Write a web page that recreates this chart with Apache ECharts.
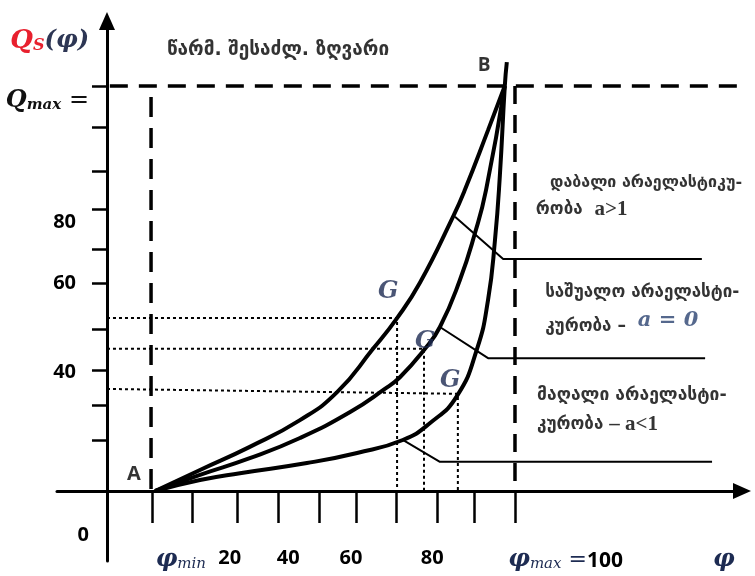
<!DOCTYPE html>
<html>
<head>
<meta charset="utf-8">
<script src="https://cdn.jsdelivr.net/npm/echarts@6/dist/echarts.min.js"></script>
<style>
  html, body { margin: 0; padding: 0; background: #fff; }
  #chart { width: 755px; height: 576px; }
</style>
</head>
<body>
<div id="chart"></div>
<script>
// diagram units: φ (0..100 = φmax), Qs (0..100 = Qmax)
// supply curves, [φ, Qs]
var curveLowInel = [[11.8,0],[22.8,5.2],[35.0,10.9],[47.3,17.5],[56.4,24.4],[65.2,35.1],[71.1,42.7],[76.7,51.4],[84.8,67.7],[87.7,74.3],[93.4,89.1],[97.5,100]]
var curveMidInel = [[11.8,0],[22.8,4.0],[35.0,8.1],[47.3,13.1],[59.6,19.5],[68.1,25.2],[71.8,28.1],[77.7,34.8],[81.6,40.5],[86.5,52.1],[90.2,63.7],[92.9,74.3],[97.5,100]]
var curveHighInel = [[11.8,0],[22.8,2.7],[32.6,4.4],[49.0,6.9],[61.3,9.4],[72.5,12.6],[79.2,16.8],[85.8,23.5],[90.7,35.1],[93.4,47.2],[95.1,62.0],[96.3,78.0],[97.5,100],[98.0,105.9]]

// pointer lines from the curves to the notes
var pointerTop = [[85.3,67.7],[97.1,57.3],[145.8,57.3]]
var pointerMid = [[81.6,40.5],[93.4,32.8],[146.6,32.8]]
var pointerLow = [[72.5,12.6],[81.6,7.2],[148.3,7.2]]

// dashed limits and dotted read-offs
var qmaxLine = [[0.7,100],[160,100]]
var phiMinLine = [[10.8,97.3],[10.8,0]]
var phiMaxLine = [[100,100],[100,0]]
var readOff1 = [[0,42.7],[71.1,42.7],[71.1,0]]
var readOff2 = [[0,35.1],[77.7,35.1],[77.7,0]]
var readOff3 = [[0,25.2],[86.0,24.0],[86.0,0]]

// axes
var xTicks = [11, 21, 32, 42, 52, 61, 71, 81, 90, 100]
var xLabelAt = [18.1, 30.1, 44.4, 59.8, 79.7, 112.4, 151.2]
var xLabels = ['{ph|φ}{phs|min}', '{n|20}', '{n|40}', '{n|60}', '{n|80}', '{ph|φ}{phs|max}{eq| =}{nb|100}', '{ph|φ}']
var yTicks = [12.6, 21.2, 29.9, 40, 51.4, 59.8, 69.6, 79, 89.9, 100]
var yLabelAt = [111.1, 96.3, 66.4, 51.4, 29.4, -10.9]
var yLabels = ['{qr|Q}{qrs|S}{qp|(φ)}', '{qb|Q}{qbs|max}{eqs| =}', '{ny|80}', '{ny|60}', '{ny|40}', '{n|0}']

// notes
var notes = ['{t|წარმ. შესაძლ. ზღვარი}', '{s|დაბალი არაელასტიკუ-}', 'რობა  {lat|a>1}', 'საშუალო არაელასტი-',
  'კურობა – {ab|a = 0}', '{m|მაღალი არაელასტი-}', 'კურობა {lat|– a<1}', '{pb|B}', '{pa|A}', '{g|G}', '{g|G}', '{g|G}']
var noteAt = [[14.7,108.9],[108.6,76.0],[105.1,69.4],[107.4,49.1],[107.4,40.5],[105.4,23.7],[105.4,16.3],
  [90.9,105.0],[4.9,4.1],[66.4,49.1],[75.5,36.8],[81.6,27.1]]

var serif = 'DejaVu Serif'
var sans = 'Open Sans'
var navy = '#1d2b52'

function line(data, width, type, z) {
  return {
    type: 'line', data: data, symbol: 'none', silent: true, z: z || 2,
    lineStyle: { color: '#000', width: width, type: type || 'solid' }
  }
}

function curve(data) {
  var s = line(data, 4, 'solid', 5)
  s.smooth = 0.5
  return s
}

var chart = echarts.init(document.getElementById('chart'))

var series = [
  curve(curveLowInel), curve(curveMidInel), curve(curveHighInel),
  line(pointerTop, 2), line(pointerMid, 2), line(pointerLow, 2),
  line(phiMinLine, 3.5, [20, 11]), line(phiMaxLine, 3.5, [18, 11]),
  line(readOff1, 2, [3, 3]), line(readOff2, 2, [3, 3]), line(readOff3, 2, [3, 3])
]
var q = line(qmaxLine, 3.5, [18, 11])
q.clip = false
series.push(q)

series.push({
  type: 'scatter', symbolSize: 0, silent: true, z: 6,
  data: notes.map(function (t, i) { return { value: noteAt[i], name: t } }),
  label: {
    show: true, position: 'right', distance: 0,
    formatter: function (p) { return p.name },
    fontFamily: 'DejaVu Sans', fontWeight: 'bold', fontSize: 17, color: '#000',
    rich: {
      t: { fontFamily: 'DejaVu Sans', fontWeight: 'bold', fontSize: 19, color: '#000' },
      s: { fontFamily: 'DejaVu Sans', fontWeight: 'bold', fontSize: 16, color: '#000' },
      m: { fontFamily: 'DejaVu Sans', fontWeight: 'bold', fontSize: 17.5, color: '#000' },
      lat: { fontFamily: 'Liberation Serif', fontWeight: 'bold', fontSize: 21, color: '#000' },
      ab: { fontFamily: serif, fontStyle: 'italic', fontSize: 21, color: '#2a4270', padding: [0, 0, 12, 6] },
      pb: { fontFamily: sans, fontWeight: 'bold', fontSize: 19, color: '#000' },
      pa: { fontFamily: sans, fontSize: 20, color: '#000' },
      g: { fontFamily: serif, fontStyle: 'italic', fontWeight: 'bold', fontSize: 24, color: navy }
    }
  }
})

chart.setOption({
  animation: false,
  backgroundColor: '#fff',
  grid: { left: 57, right: 13, top: 21, bottom: 15, outerBoundsMode: 'none' },
  xAxis: {
    type: 'value', min: -12.25, max: 155.64,
    axisLine: { onZero: true, symbol: ['none', 'triangle'], symbolSize: [16, 18], lineStyle: { color: '#000', width: 3 } },
    axisTick: { show: true, customValues: xTicks, length: 32, lineStyle: { color: '#000', width: 2.5 } },
    axisLabel: {
      customValues: xLabelAt, margin: -13,
      formatter: function (v) { return xLabels[xLabelAt.indexOf(v)] },
      rich: {
        ph: { fontFamily: serif, fontStyle: 'italic', fontWeight: 'bold', fontSize: 24, color: navy },
        phs: { fontFamily: serif, fontStyle: 'italic', fontSize: 15, color: navy, verticalAlign: 'bottom' },
        eq: { fontFamily: serif, fontSize: 22, color: navy },
        n: { fontFamily: sans, fontWeight: 'bold', fontSize: 20, color: '#000' },
        nb: { fontFamily: sans, fontWeight: 'bold', fontSize: 21, color: '#000', verticalAlign: 'bottom' }
      }
    },
    splitLine: { show: false }
  },
  yAxis: {
    type: 'value', min: -17.28, max: 116.05,
    axisLine: { onZero: true, symbol: ['none', 'triangle'], symbolSize: [16, 18], lineStyle: { color: '#000', width: 3 } },
    axisTick: { show: true, customValues: yTicks, length: 15, lineStyle: { color: '#000', width: 2.5 } },
    axisLabel: {
      customValues: yLabelAt, margin: -32,
      formatter: function (v) { return yLabels[yLabelAt.indexOf(v)] },
      rich: {
        qr: { fontFamily: serif, fontStyle: 'italic', fontWeight: 'bold', fontSize: 26, color: '#e8202e' },
        qrs: { fontFamily: serif, fontStyle: 'italic', fontWeight: 'bold', fontSize: 16, color: '#e8202e', verticalAlign: 'bottom' },
        qp: { fontFamily: serif, fontStyle: 'italic', fontWeight: 'bold', fontSize: 24, color: '#2d3654' },
        qb: { fontFamily: serif, fontStyle: 'italic', fontWeight: 'bold', fontSize: 24, color: '#111' },
        qbs: { fontFamily: serif, fontStyle: 'italic', fontWeight: 'bold', fontSize: 15, color: '#111', verticalAlign: 'bottom' },
        eqs: { fontFamily: serif, fontSize: 24, color: '#111' },
        ny: { fontFamily: sans, fontWeight: 'bold', fontSize: 20, color: '#000', padding: [0, 13, 0, 0] },
        n: { fontFamily: sans, fontWeight: 'bold', fontSize: 20, color: '#000' }
      }
    },
    splitLine: { show: false }
  },
  series: series
})
</script>
</body>
</html>
